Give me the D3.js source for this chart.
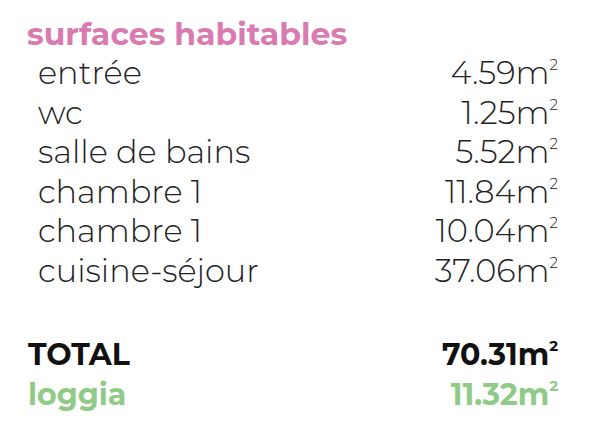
<!DOCTYPE html>
<html><head><meta charset="utf-8">
<script src="https://cdn.jsdelivr.net/npm/d3@7"></script>
<style>body{margin:0;background:#fff}svg{display:block}</style>
</head><body><svg id="c"></svg>
<script>
const title = "surfaces habitables";
const rooms = ["entrée", "wc", "salle de bains", "chambre 1", "chambre 1", "cuisine-séjour"];
const areas = [4.59, 1.25, 5.52, 11.84, 10.04, 37.06];
const totalLabel = "TOTAL", totalValue = 70.31;
const loggiaLabel = "loggia", loggiaValue = 11.32;

const W = 600, H = 442;
const svg = d3.select("#c").attr("width", W).attr("height", H);
const font = "Montserrat, 'Open Sans', Lato, sans-serif";

const y = d3.scaleLinear().domain([0, 5]).range([84, 282]);
const xLabel = 38, xVal = 545;

svg.append("text").attr("x", 27).attr("y", 45).text(title)
  .style("font-family", font).style("font-weight", 700).style("font-size", "31.5px")
  .attr("fill", "#d97bb0");

function sq(t) { t.append("tspan").attr("dy", -14).style("font-size", "15px").text("2"); }

const rows = svg.selectAll(".row").data(rooms.map((r, i) => ({r, v: areas[i], i})))
  .join("g").attr("class", "row")
  .style("font-family", font).style("font-weight", 300).style("font-size", "32px").attr("fill", "#222");
rows.append("text").attr("x", xLabel).attr("y", d => y(d.i)).text(d => d.r);
rows.append("text").attr("x", xVal + 13).attr("y", d => y(d.i)).attr("text-anchor", "end")
  .each(function(d) { const t = d3.select(this); t.append("tspan").text(d.v.toFixed(2) + "m"); sq(t); });

function bold(label, val, yy, col) {
  const g = svg.append("g").style("font-family", font).style("font-weight", 700)
    .style("font-size", "30px").attr("fill", col);
  g.append("text").attr("x", 28).attr("y", yy).text(label);
  const t = g.append("text").attr("x", xVal + 13).attr("y", yy).attr("text-anchor", "end");
  t.append("tspan").text(val.toFixed(2) + "m"); sq(t);
}
bold(totalLabel, totalValue, 365, "#111");
bold(loggiaLabel, loggiaValue, 405, "#8fcb86");
</script></body></html>
